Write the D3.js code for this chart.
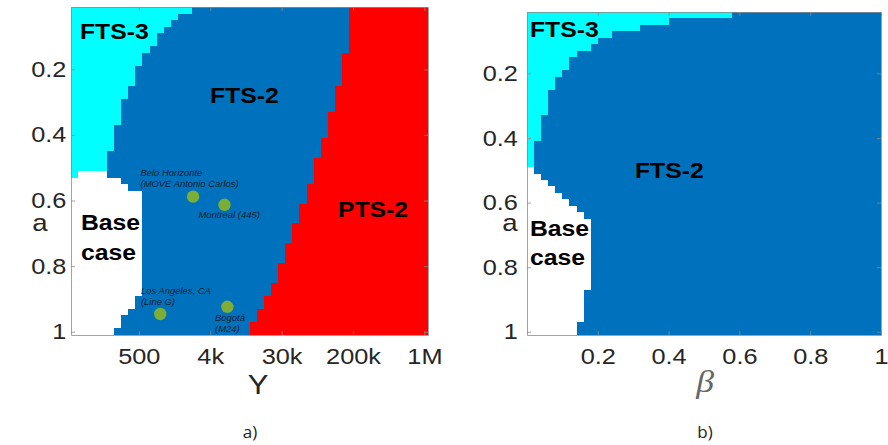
<!DOCTYPE html>
<html>
<head>
<meta charset="utf-8">
<script src="https://cdn.jsdelivr.net/npm/d3@7/dist/d3.min.js"></script>
<style>
  body { margin: 0; background: #fff; }
  svg { display: block; font-family: "Liberation Sans", Arial, Helvetica, sans-serif; }
</style>
</head>
<body>
<svg id="chart" width="888" height="445"></svg>
<script>
// ---- grid: 50 rows of a (0.02 … 1.00), 50 columns per panel ----
const aValues = d3.range(1, 51).map(i => +(i * 0.02).toFixed(2));

// ---- shared axis ticks ----
const aTicks = [0.2, 0.4, 0.6, 0.8, 1];
const aTickLabels = ["0.2", "0.4", "0.6", "0.8", "1"];

// ---- panel a: columns are positions on the log-spaced Y grid (1..50) ----
const yGridTicks = [10, 20, 30, 40, 50];
const yGridTickLabels = ["500", "4k", "30k", "200k", "1M"];

// per a-row: FTS-3 columns from the left, Base case columns after them, PTS-2 columns from the right
const fts3ColsA = [17, 15, 14, 13, 12, 12, 11, 10, 10, 9,
                   9, 9, 8, 8, 7, 7, 7, 7, 6, 6,
                   6, 6, 5, 5, 5, 1, 0, 0, 0, 0,
                   0, 0, 0, 0, 0, 0, 0, 0, 0, 0,
                   0, 0, 0, 0, 0, 0, 0, 0, 0, 0];
const baseColsA = [0, 0, 0, 0, 0, 0, 0, 0, 0, 0,
                   0, 0, 0, 0, 0, 0, 0, 0, 0, 0,
                   0, 0, 0, 0, 0, 4, 7, 8, 10, 10,
                   10, 10, 10, 10, 10, 10, 10, 10, 10, 10,
                   10, 10, 10, 10, 9, 9, 8, 7, 7, 6];
const pts2ColsA = [11, 11, 11, 11, 11, 11, 11, 12, 12, 12,
                   12, 12, 13, 13, 13, 13, 14, 14, 14, 14,
                   15, 15, 15, 16, 16, 16, 16, 17, 17, 17,
                   18, 18, 18, 19, 19, 19, 20, 20, 20, 21,
                   21, 21, 22, 22, 23, 23, 24, 24, 25, 25];

// case studies placed on panel a (Y-grid position, a)
const cityNames = ["Belo Horizonte", "Montreal", "Los Angeles", "Bogotá"];
const cityYGrid = [17.6, 22.0, 13.0, 22.4];
const cityA = [0.588, 0.613, 0.946, 0.924];
const cityLabelLines = [
  ["Belo Horizonte", "(MOVE Antonio Carlos)"],
  ["Montreal (445)"],
  ["Los Angeles, CA", "(Line G)"],
  ["Bogotá", "(M24)"]
];

// ---- panel b: columns are β (0 … 1, step 0.02) ----
const betaTicks = [0.2, 0.4, 0.6, 0.8, 1];
const betaTickLabels = ["0.2", "0.4", "0.6", "0.8", "1"];
const fts3ColsB = [29, 20, 16, 12, 10, 9, 7, 6, 6, 5,
                   4, 4, 3, 3, 3, 3, 2, 2, 2, 2,
                   1, 1, 1, 1, 0, 0, 0, 0, 0, 0,
                   0, 0, 0, 0, 0, 0, 0, 0, 0, 0,
                   0, 0, 0, 0, 0, 0, 0, 0, 0, 0];
const baseColsB = [0, 0, 0, 0, 0, 0, 0, 0, 0, 0,
                   0, 0, 0, 0, 0, 0, 0, 0, 0, 0,
                   0, 0, 0, 0, 1, 2, 3, 4, 5, 6,
                   7, 8, 9, 9, 9, 9, 9, 9, 9, 9,
                   9, 9, 9, 8, 8, 8, 8, 8, 7, 7];

// ---- styling ----
const COLORS = { fts3: "#00FFFF", fts2: "#0072BD", pts2: "#FF0000" };
const DOT = "#7CAE36";
const SX = 1.15;          // horizontal text stretch of the figure
const NCOL = 50;

const svg = d3.select("#chart");

function stretchedText(g, x, y, str) {
  return g.append("text")
    .attr("transform", `translate(${x},${y}) scale(${SX},1)`)
    .text(str);
}

function drawPanel(p) {
  const g = svg.append("g");
  const [x0, x1] = p.x.range();
  const [y0, y1] = p.y.range();

  // cells
  const cells = [];
  aValues.forEach((a, i) => {
    const c1 = p.fts3[i];
    const c2 = c1 + p.base[i];
    const c3 = NCOL - (p.pts2 ? p.pts2[i] : 0);
    const segs = [[0, c1, "fts3"], [c2, c3, "fts2"], [c3, NCOL, "pts2"]];
    segs.forEach(([s, e, cls]) => { if (e > s) cells.push({ a, s, e, cls }); });
  });
  g.append("g").attr("shape-rendering", "crispEdges")
    .selectAll("rect").data(cells).join("rect")
    .attr("x", d => p.x(p.edge(d.s)))
    .attr("width", d => p.x(p.edge(d.e)) - p.x(p.edge(d.s)))
    .attr("y", d => p.y(d.a - 0.01))
    .attr("height", d => p.y(d.a + 0.01) - p.y(d.a - 0.01))
    .attr("fill", d => COLORS[d.cls]);

  // axes (box with inward ticks on all sides)
  const axStyle = sel => {
    sel.select(".domain").attr("stroke", "#8a8a8a").attr("stroke-width", 0.8);
    sel.selectAll(".tick line").attr("stroke", "#8a8a8a").attr("stroke-width", 0.8);
  };
  const left = g.append("g").attr("transform", `translate(${x0},0)`)
    .call(d3.axisLeft(p.y).tickValues(aTicks).tickFormat((d, i) => aTickLabels[i])
      .tickSizeInner(-4).tickSizeOuter(0).tickPadding(p.yPad));
  const bottom = g.append("g").attr("transform", `translate(0,${y1})`)
    .call(d3.axisBottom(p.x).tickValues(p.xTicks).tickFormat((d, i) => p.xTickLabels[i])
      .tickSizeInner(-4).tickSizeOuter(0).tickPadding(18));
  const right = g.append("g").attr("transform", `translate(${x1},0)`)
    .call(d3.axisRight(p.y).tickValues(aTicks).tickFormat("").tickSizeInner(-4).tickSizeOuter(0));
  const top = g.append("g").attr("transform", `translate(0,${y0})`)
    .call(d3.axisTop(p.x).tickValues(p.xTicks).tickFormat("").tickSizeInner(-4).tickSizeOuter(0));
  [left, bottom, right, top].forEach(axStyle);
  [left, bottom].forEach(ax => ax.selectAll(".tick text")
    .attr("font-size", 22).attr("fill", "#262626")
    .attr("font-family", "'Liberation Sans', Arial, sans-serif"));
  left.selectAll(".tick text").attr("transform", `scale(${SX},1)`);
  bottom.selectAll(".tick text").attr("transform", `scale(${SX},1)`).attr("dy", "0.5em");

  // region labels
  const lab = g.append("g").attr("font-weight", "bold").attr("font-size", 21.5).attr("fill", "#000");
  p.labels.forEach(l => stretchedText(lab, l.x, l.y, l.text).attr("text-anchor", l.anchor || "start"));

  return g;
}

// ---- panel a ----
const xA = d3.scaleLinear().domain([0.5, NCOL + 0.5]).range([71, 428]);
const yA = d3.scaleLinear().domain([0.01, 1.01]).range([7, 335]);
const gA = drawPanel({
  x: xA, y: yA, edge: k => k + 0.5,
  fts3: fts3ColsA, base: baseColsA, pts2: pts2ColsA,
  xTicks: yGridTicks, xTickLabels: yGridTickLabels, yPad: 4,
  labels: [
    { text: "FTS-3", x: 80, y: 39 },
    { text: "FTS-2", x: 210, y: 103 },
    { text: "PTS-2", x: 338, y: 217 },
    { text: "Base", x: 81, y: 230 },
    { text: "case", x: 81, y: 260 }
  ]
});

// case-study dots and their notes
const cityOffsets = [[-52.6, -20.7], [-26, 13.6], [-19.3, -20], [-12.3, 14]];
const cities = cityNames.map((n, i) => ({
  name: n, gx: cityYGrid[i], a: cityA[i], lines: cityLabelLines[i], off: cityOffsets[i]
}));
gA.append("g").selectAll("circle").data(cities).join("circle")
  .attr("cx", d => xA(d.gx)).attr("cy", d => yA(d.a)).attr("r", 6.2)
  .attr("fill", DOT);
const notes = gA.append("g").attr("font-size", 8.2).attr("font-style", "italic").attr("fill", "#14202e");
cities.forEach(d => {
  d.lines.forEach((line, j) => {
    stretchedText(notes, xA(d.gx) + d.off[0], yA(d.a) + d.off[1] + j * 11.4, line);
  });
});

// ---- panel b ----
const xB = d3.scaleLinear().domain([0, 1]).range([527, 881]);
const yB = d3.scaleLinear().domain([0.01, 1.01]).range([12, 335]);
drawPanel({
  x: xB, y: yB, edge: k => k / NCOL,
  fts3: fts3ColsB, base: baseColsB, pts2: null,
  xTicks: betaTicks, xTickLabels: betaTickLabels, yPad: 8,
  labels: [
    { text: "FTS-3", x: 530, y: 37 },
    { text: "FTS-2", x: 635, y: 178 },
    { text: "Base", x: 530, y: 236 },
    { text: "case", x: 530, y: 265 }
  ]
});

// ---- axis titles and panel captions ----
const titles = svg.append("g").attr("fill", "#262626");
stretchedText(titles, 40, 231, "a").attr("font-size", 24).attr("text-anchor", "middle");
stretchedText(titles, 510, 231, "a").attr("font-size", 24).attr("text-anchor", "middle");
stretchedText(titles, 258, 394, "Y").attr("font-size", 27).attr("text-anchor", "middle");
stretchedText(titles, 705, 392, "β").attr("font-size", 31).attr("text-anchor", "middle")
  .attr("font-family", "'Liberation Serif', serif").attr("font-style", "italic").attr("fill", "#666");
const caps = svg.append("g").attr("fill", "#222").attr("font-size", 17)
  .attr("font-family", "'Open Sans', 'Liberation Sans', sans-serif");
caps.append("text").attr("x", 250).attr("y", 438).attr("text-anchor", "middle").text("a)");
caps.append("text").attr("x", 705).attr("y", 438).attr("text-anchor", "middle").text("b)");
</script>
</body>
</html>
